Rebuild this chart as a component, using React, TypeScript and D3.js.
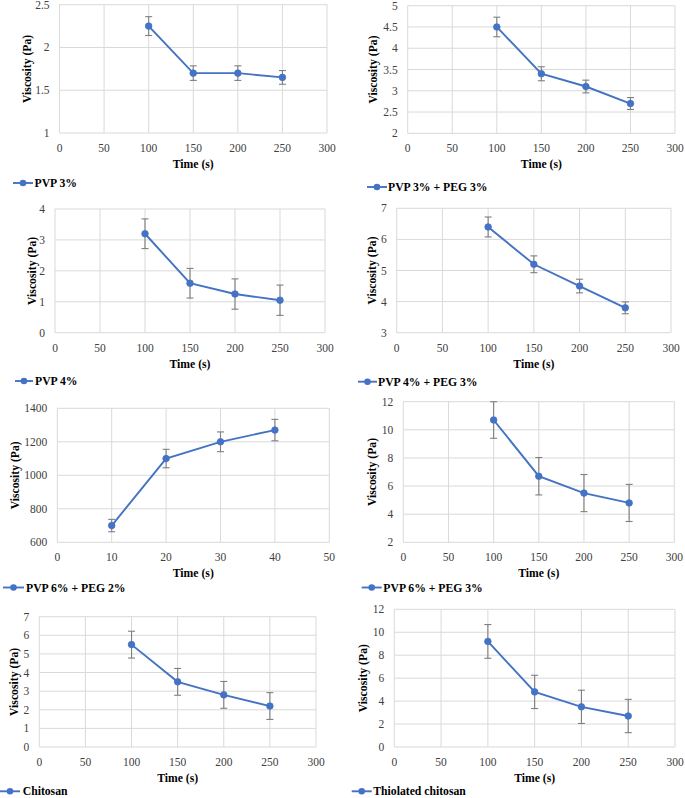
import React from "react";
import * as d3 from "d3";

// ---- data ----
const timeA = [100, 150, 200, 250];
const timeB = [10, 20, 30, 40];

const pvp3 = [2.25, 1.7, 1.7, 1.65];
const pvp3Err = [0.11, 0.085, 0.085, 0.08];
const pvp3peg3 = [4.5, 3.4, 3.1, 2.7];
const pvp3peg3Err = [0.23, 0.165, 0.15, 0.14];
const pvp4 = [3.2, 1.6, 1.25, 1.05];
const pvp4Err = [0.48, 0.48, 0.49, 0.49];
const pvp4peg3 = [6.4, 5.2, 4.5, 3.8];
const pvp4peg3Err = [0.32, 0.27, 0.22, 0.19];
const pvp6peg2 = [700, 1100, 1200, 1270];
const pvp6peg2Err = [37, 55, 59, 64];
const pvp6peg3 = [10.7, 6.7, 5.5, 4.8];
const pvp6peg3Err = [1.3, 1.33, 1.32, 1.32];
const chitosan = [5.5, 3.5, 2.8, 2.2];
const chitosanErr = [0.72, 0.72, 0.72, 0.72];
const thiolated = [9.2, 4.8, 3.5, 2.7];
const thiolatedErr = [1.47, 1.45, 1.45, 1.45];

const seriesNames = [
  "PVP 3%",
  "PVP 3% + PEG 3%",
  "PVP 4%",
  "PVP 4% + PEG 3%",
  "PVP 6% + PEG 2%",
  "PVP 6% + PEG 3%",
  "Chitosan",
  "Thiolated chitosan",
];

const xTicksA = [0, 50, 100, 150, 200, 250, 300];
const xTicksB = [0, 10, 20, 30, 40, 50];
const yTicks1 = [1, 1.5, 2, 2.5];
const yTicks2 = [2, 2.5, 3, 3.5, 4, 4.5, 5];
const yTicks3 = [0, 1, 2, 3, 4];
const yTicks4 = [3, 4, 5, 6, 7];
const yTicks5 = [600, 800, 1000, 1200, 1400];
const yTicks6 = [2, 4, 6, 8, 10, 12];
const yTicks7 = [0, 1, 2, 3, 4, 5, 6, 7];
const yTicks8 = [0, 2, 4, 6, 8, 10, 12];

const xLabel = "Time (s)";
const yLabel = "Viscosity (Pa)";

// ---- layout (positions only) ----
type Layout = {
  l: number; t: number; r: number; b: number;
  yTitleX: number; legY: number; legX0: number; legX1: number; legTextX: number;
};
const layouts: Layout[] = [
  { l: 59.5, t: 4.7, r: 327, b: 133, yTitleX: 27, legY: 183, legX0: 13, legX1: 33, legTextX: 34.5 },
  { l: 407.7, t: 5.7, r: 675, b: 133.3, yTitleX: 373.3, legY: 187, legX0: 367, legX1: 387, legTextX: 388 },
  { l: 55, t: 209, r: 325, b: 332.7, yTitleX: 31.7, legY: 381, legX0: 15, legX1: 33, legTextX: 35 },
  { l: 396.7, t: 208.3, r: 671, b: 332.7, yTitleX: 371.7, legY: 381.7, legX0: 358, legX1: 377, legTextX: 378 },
  { l: 57.3, t: 408.3, r: 329.3, b: 542.3, yTitleX: 15, legY: 587.5, legX0: 3, legX1: 24, legTextX: 26 },
  { l: 403.3, t: 401.7, r: 674.3, b: 542.3, yTitleX: 372.3, legY: 587.5, legX0: 361.7, legX1: 381.7, legTextX: 383.3 },
  { l: 39.3, t: 616.7, r: 316, b: 747, yTitleX: 14, legY: 791.3, legX0: 0, legX1: 20, legTextX: 22.7 },
  { l: 394.3, t: 609.3, r: 675, b: 747, yTitleX: 363.3, legY: 791.3, legX0: 351.7, legX1: 371.7, legTextX: 373.3 },
];

const panels = [
  { name: seriesNames[0], x: timeA, xTicks: xTicksA, y: pvp3, err: pvp3Err, yTicks: yTicks1 },
  { name: seriesNames[1], x: timeA, xTicks: xTicksA, y: pvp3peg3, err: pvp3peg3Err, yTicks: yTicks2 },
  { name: seriesNames[2], x: timeA, xTicks: xTicksA, y: pvp4, err: pvp4Err, yTicks: yTicks3 },
  { name: seriesNames[3], x: timeA, xTicks: xTicksA, y: pvp4peg3, err: pvp4peg3Err, yTicks: yTicks4 },
  { name: seriesNames[4], x: timeB, xTicks: xTicksB, y: pvp6peg2, err: pvp6peg2Err, yTicks: yTicks5 },
  { name: seriesNames[5], x: timeA, xTicks: xTicksA, y: pvp6peg3, err: pvp6peg3Err, yTicks: yTicks6 },
  { name: seriesNames[6], x: timeA, xTicks: xTicksA, y: chitosan, err: chitosanErr, yTicks: yTicks7 },
  { name: seriesNames[7], x: timeA, xTicks: xTicksA, y: thiolated, err: thiolatedErr, yTicks: yTicks8 },
];

const FONT = "Liberation Serif";
const BLUE = "#4472C4";
const GRID = "#d9d9d9";
const TICK = "#404040";
const ERR = "#7f7f7f";

function Panel({ p, L }: { p: (typeof panels)[number]; L: Layout }) {
  const xs = d3.scaleLinear().domain([p.xTicks[0], p.xTicks[p.xTicks.length - 1]]).range([L.l, L.r]);
  const ys = d3.scaleLinear().domain([p.yTicks[0], p.yTicks[p.yTicks.length - 1]]).range([L.b, L.t]);
  const pts = p.x.map((x, i) => [x, p.y[i]] as [number, number]);
  const line = d3.line<[number, number]>().x((d) => xs(d[0])).y((d) => ys(d[1]));
  const cap = 3.5;
  return (
    <g fontFamily={FONT}>
      {p.yTicks.map((t) => (
        <line key={"gy" + t} x1={L.l} x2={L.r} y1={ys(t)} y2={ys(t)} stroke={GRID} strokeWidth={1} />
      ))}
      {p.xTicks.map((t) => (
        <line key={"gx" + t} x1={xs(t)} x2={xs(t)} y1={L.t} y2={L.b} stroke={GRID} strokeWidth={1} />
      ))}
      {p.yTicks.map((t) => (
        <text key={"ty" + t} x={L.l - 10} y={ys(t)} dy="0.35em" textAnchor="end" fontSize={11.5} fill={TICK} fontFamily={FONT}>
          {String(t)}
        </text>
      ))}
      {p.xTicks.map((t) => (
        <text key={"tx" + t} x={xs(t)} y={L.b + 15} dy="0.35em" textAnchor="middle" fontSize={11.5} fill={TICK} fontFamily={FONT}>
          {String(t)}
        </text>
      ))}
      <text x={(L.l + L.r) / 2} y={L.b + 31} dy="0.35em" textAnchor="middle" fontSize={11.7} fontWeight="bold" fontFamily={FONT} fill="#000">
        {xLabel}
      </text>
      <text
        transform={`translate(${L.yTitleX},${(L.t + L.b) / 2}) rotate(-90)`}
        dy="0.35em"
        textAnchor="middle"
        fontSize={11.7}
        fontWeight="bold"
        fontFamily={FONT}
        fill="#000"
      >
        {yLabel}
      </text>
      {pts.map((d, i) => (
        <g key={"e" + i} stroke={ERR} strokeWidth={1.1}>
          <line x1={xs(d[0])} x2={xs(d[0])} y1={ys(d[1] - p.err[i])} y2={ys(d[1] + p.err[i])} />
          <line x1={xs(d[0]) - cap} x2={xs(d[0]) + cap} y1={ys(d[1] - p.err[i])} y2={ys(d[1] - p.err[i])} />
          <line x1={xs(d[0]) - cap} x2={xs(d[0]) + cap} y1={ys(d[1] + p.err[i])} y2={ys(d[1] + p.err[i])} />
        </g>
      ))}
      <path d={line(pts) || ""} fill="none" stroke={BLUE} strokeWidth={1.9} />
      {pts.map((d, i) => (
        <circle key={"m" + i} cx={xs(d[0])} cy={ys(d[1])} r={3.3} fill={BLUE} stroke={BLUE} strokeWidth={0.8} />
      ))}
      <line x1={L.legX0} x2={L.legX1} y1={L.legY} y2={L.legY} stroke={BLUE} strokeWidth={1.9} />
      <circle cx={(L.legX0 + L.legX1) / 2} cy={L.legY} r={3.3} fill={BLUE} />
      <text x={L.legTextX} y={L.legY} dy="0.35em" fontSize={11.7} fontWeight="bold" fontFamily={FONT} fill="#000">
        {p.name}
      </text>
    </g>
  );
}

export default function App() {
  return (
    <svg
      width={685}
      height={798}
      style={{ position: "absolute", left: 0, top: 0, background: "#fff" }}
    >
      <rect x={0} y={0} width={685} height={798} fill="#fff" />
      {panels.map((p, i) => (
        <Panel key={i} p={p} L={layouts[i]} />
      ))}
    </svg>
  );
}
